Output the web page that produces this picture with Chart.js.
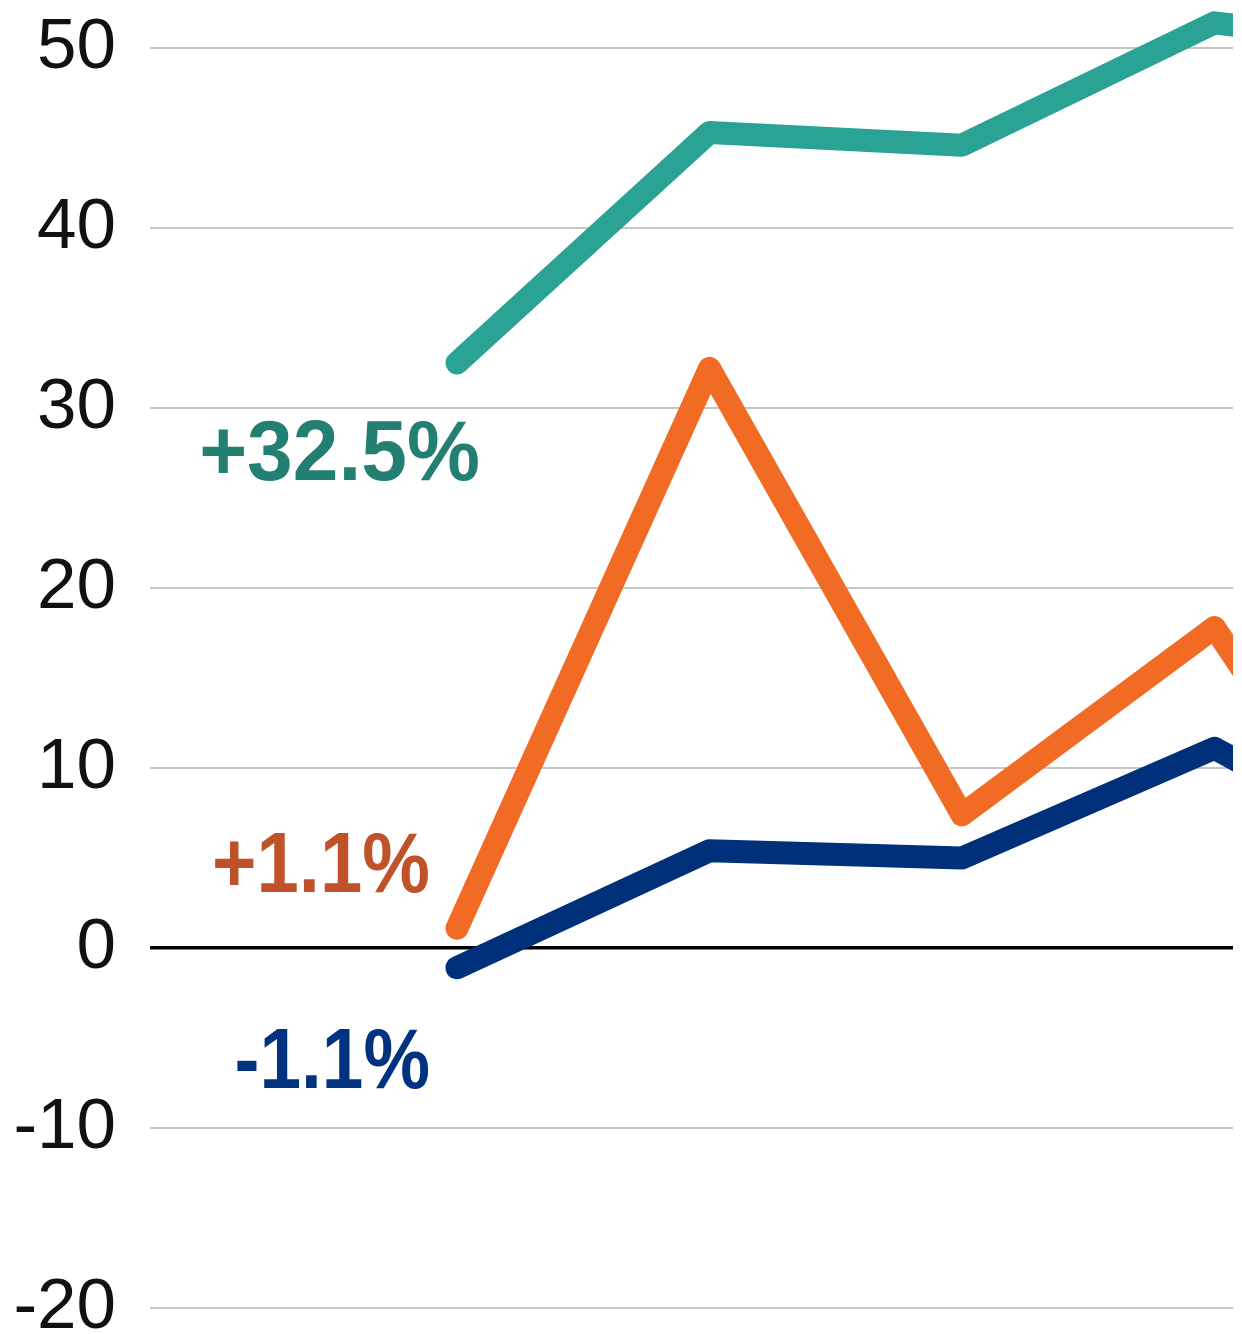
<!DOCTYPE html>
<html>
<head>
<meta charset="utf-8">
<script src="https://cdn.jsdelivr.net/npm/chart.js@4/dist/chart.umd.min.js"></script>
<style>
  html, body { margin: 0; padding: 0; background: #ffffff; }
  #wrap { position: relative; width: 1242px; height: 1334px; }
</style>
</head>
<body>
<div id="wrap"><canvas id="c"></canvas></div>
<script>
// ---- data ----
const periods = [0, 1, 2, 3, 4];
const tealValues   = [32.5, 45.3, 44.6, 51.4, 49.7];
const orangeValues = [1.1, 32.2, 7.4, 17.8, -3.2];
const navyValues   = [-1.1, 5.4, 5.0, 11.1, 3.4];
const yTicks = [-20, -10, 0, 10, 20, 30, 40, 50];
const changeLabels = ['+32.5%', '+1.1%', '-1.1%'];

const toPoints = vals => vals.map((v, i) => ({ x: periods[i], y: v }));

const annotationPlugin = {
  id: 'changeLabels',
  afterDatasetsDraw(chart) {
    const { ctx, scales: { x, y } } = chart;
    const specs = [
      { text: changeLabels[0], v: tealValues[0],   color: '#237f72', dx: 23,  dy: 117, sx: 0.955 },
      { text: changeLabels[1], v: orangeValues[0], color: '#c0522a', dx: -27, dy: -36, sx: 0.885 },
      { text: changeLabels[2], v: navyValues[0],   color: '#00337f', dx: -27, dy: 120, sx: 0.87 }
    ];
    ctx.save();
    ctx.font = 'bold 86px "Liberation Sans", Arial, sans-serif';
    ctx.textAlign = 'right';
    ctx.textBaseline = 'alphabetic';
    specs.forEach(s => {
      const px = x.getPixelForValue(periods[0]) + s.dx;
      const py = y.getPixelForValue(s.v) + s.dy;
      ctx.save();
      ctx.translate(px, py);
      ctx.scale(s.sx, 1);
      ctx.fillStyle = s.color;
      ctx.fillText(s.text, 0, 0);
      ctx.restore();
    });
    ctx.restore();
  }
};

const lineStyle = {
  borderWidth: 23,
  pointRadius: 0,
  pointHoverRadius: 0,
  tension: 0,
  borderCapStyle: 'round',
  borderJoinStyle: 'round',
  fill: false
};

new Chart(document.getElementById('c'), {
  type: 'line',
  data: {
    datasets: [
      Object.assign({ label: 'Teal', data: toPoints(tealValues), borderColor: '#2aa395' }, lineStyle),
      Object.assign({ label: 'Orange', data: toPoints(orangeValues), borderColor: '#f26b25' }, lineStyle),
      Object.assign({ label: 'Navy', data: toPoints(navyValues), borderColor: '#00307a' }, lineStyle)
    ]
  },
  options: {
    responsive: true,
    maintainAspectRatio: false,
    animation: false,
    events: [],
    layout: { padding: { left: 0, right: 9, top: 0, bottom: 0 } },
    plugins: { legend: { display: false }, tooltip: { enabled: false } },
    scales: {
      x: {
        type: 'linear',
        display: false,
        min: -1.2158,
        max: 3.0733
      },
      y: {
        type: 'linear',
        min: -21.444,
        max: 52.667,
        border: { display: false },
        afterBuildTicks(axis) {
          axis.ticks = yTicks.map(v => ({ value: v }));
        },
        afterFit(axis) {
          axis.width = 150;
          axis.paddingTop = 0;
          axis.paddingBottom = 0;
        },
        grid: {
          drawTicks: false,
          color: ctx => (ctx.tick && ctx.tick.value === 0) ? '#000000' : '#c6c6c6',
          lineWidth: ctx => (ctx.tick && ctx.tick.value === 0) ? 3.5 : 2
        },
        ticks: {
          padding: 34,
          color: '#111111',
          font: { family: '"Liberation Sans", Arial, sans-serif', size: 71 },
          callback: v => String(v)
        }
      }
    }
  },
  plugins: [annotationPlugin]
});
</script>
</body>
</html>
